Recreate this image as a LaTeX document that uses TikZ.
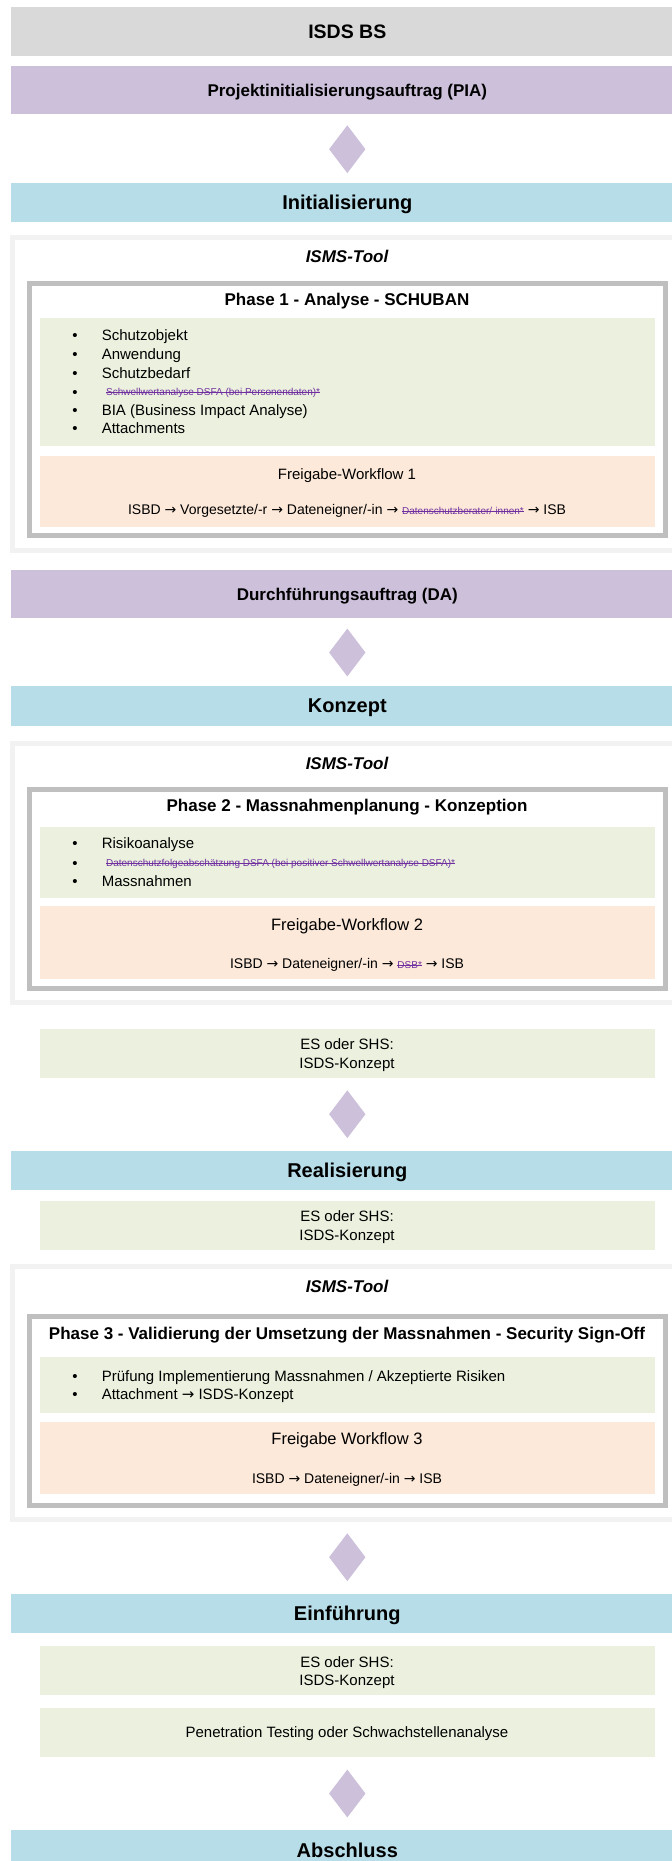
\documentclass[tikz,border=0pt]{standalone}
\usepackage{fontspec}
\setmainfont{Liberation Sans}
\newfontfamily\arrowfont{DejaVu Sans}
\usetikzlibrary{shapes.geometric}

\definecolor{hdrgray}{HTML}{D9D9D9}
\definecolor{lav}{HTML}{CCC0DA}
\definecolor{stageblue}{HTML}{B7DDE8}
\definecolor{lightgreen}{HTML}{EBF1DE}
\definecolor{peach}{HTML}{FDE9D9}
\definecolor{toolline}{HTML}{F2F2F2}
\definecolor{phaseline}{HTML}{BFBFBF}
\definecolor{struck}{HTML}{7030A0}

% text with a line drawn through it
\newsavebox\strikebox
\newcommand\strikeout[1]{\sbox\strikebox{#1}\rlap{\rule[0.3em]{\wd\strikebox}{0.5pt}}\usebox\strikebox}
% struck-out remark in small purple type
\newcommand\strk[1]{{\fontsize{10}{12}\selectfont\color{struck}\strikeout{#1}}}
% flow arrow between roles
\newcommand\ra{{\arrowfont\char"2192}}

\tikzset{
  bar/.style={rectangle, inner sep=0pt, minimum width=673.3pt, text depth=0pt},
  headbar/.style={bar, fill=hdrgray, font=\bfseries\fontsize{19.5}{22}\selectfont, text height=14pt},
  orderbar/.style={bar, fill=lav, font=\bfseries\fontsize{17}{20}\selectfont, text height=12.2pt},
  stagebar/.style={bar, fill=stageblue, font=\bfseries\fontsize{20}{24}\selectfont, text height=14.3pt},
  toolbox/.style={rectangle, draw=toolline, line width=5pt, fill=white, minimum width=670pt, inner sep=0pt},
  phasebox/.style={rectangle, draw=phaseline, line width=5pt, fill=white, minimum width=635.5pt, inner sep=0pt},
  panel/.style={rectangle, inner sep=0pt, minimum width=615pt},
  greenpanel/.style={panel, fill=lightgreen},
  peachpanel/.style={panel, fill=peach},
  gate/.style={diamond, fill=lav, minimum width=36.5pt, minimum height=48pt, inner sep=0pt},
  txt/.style={inner sep=0pt, text depth=0pt},
  tooltitle/.style={txt, font=\bfseries\itshape\fontsize{17}{20}\selectfont, text height=12.2pt},
  phasetitle/.style={txt, font=\bfseries\fontsize{17}{20}\selectfont, text height=12.2pt},
  body/.style={txt, font=\fontsize{15}{18}\selectfont, text height=10.7pt},
  flowhead/.style={txt, font=\fontsize{16.5}{20}\selectfont, text height=11.8pt},
  flowline/.style={txt, font=\fontsize{14}{17}\selectfont, text height=10pt},
  dot/.style={body},
  item/.style={body, anchor=west},
  struckitem/.style={txt, anchor=west, font=\fontsize{10}{12}\selectfont, text height=7.2pt, text=struck},
}

\begin{document}
\begin{tikzpicture}[x=1pt, y=-1pt]
\useasboundingbox (0,0) rectangle (672,1861);
\clip (0,0) rectangle (672,1861);

% ---- header and project order
\node[headbar, minimum height=48.4pt] (isds) at (347.3,31.5) {ISDS BS};
\node[orderbar, minimum height=48pt] (pia) at (347.3,90.4) {Projektinitialisierungsauftrag (PIA)};
\node[gate] (g1) at (347.3,149.2) {};

% ---- stage: Initialisierung
\node[stagebar, minimum height=39.6pt] (init) at (347.3,202.5) {Initialisierung};
\node[toolbox, minimum height=313pt] (tool1) at (347,394) {};
\node[tooltitle] (tool1t) at (347,256.7) {ISMS-Tool};
\node[phasebox, minimum height=252.6pt] (ph1) at (347.3,409.5) {};
\node[phasetitle] (ph1t) at (347,299.3) {Phase 1 - Analyse - SCHUBAN};
\node[greenpanel, minimum height=128.3pt] (ph1g) at (347.5,381.9) {};
\foreach \n/\y in {a/335,b/354,c/372.7,d/391.7,e/410,f/428.3}
  \node[dot] (b1\n) at (75,\y) {•};
\node[item] (i1a) at (101.6,335) {Schutzobjekt};
\node[item] (i1b) at (101.6,354) {Anwendung};
\node[item] (i1c) at (101.6,372.7) {Schutzbedarf};
\node[struckitem] (i1d) at (105.9,391.7) {\strikeout{Schwellwertanalyse DSFA (bei Personendaten)*}};
\node[item] (i1e) at (101.6,410) {BIA (Business Impact Analyse)};
\node[item] (i1f) at (101.6,428.3) {Attachments};
\node[peachpanel, minimum height=70.7pt] (ph1o) at (347.5,491.3) {};
\node[txt, font=\fontsize{15}{18}\selectfont, text height=10.7pt] (fw1) at (347,474.3) {Freigabe-Workflow 1};
\node[flowline] (fw1l) at (347,509.3) {ISBD \ra{} Vorgesetzte/-r \ra{} Dateneigner/-in \ra{} \strk{Datenschutzberater/-innen*} \ra{} ISB};

% ---- execution order
\node[orderbar, minimum height=48.3pt] (da) at (347.3,594.2) {Durchführungsauftrag (DA)};
\node[gate] (g2) at (347.3,652.5) {};

% ---- stage: Konzept
\node[stagebar, minimum height=40pt] (konz) at (347.3,705.7) {Konzept};
\node[toolbox, minimum height=259pt] (tool2) at (347,873) {};
\node[tooltitle] (tool2t) at (347,763.3) {ISMS-Tool};
\node[phasebox, minimum height=198.4pt] (ph2) at (347.3,889) {};
\node[phasetitle] (ph2t) at (347,805.7) {Phase 2 - Massnahmenplanung - Konzeption};
\node[greenpanel, minimum height=71pt] (ph2g) at (347.5,862.2) {};
\foreach \n/\y in {a/842.7,b/863.3,c/881}
  \node[dot] (b2\n) at (75,\y) {•};
\node[item] (i2a) at (101.6,842.7) {Risikoanalyse};
\node[struckitem] (i2b) at (105.9,863.3) {\strikeout{Datenschutzfolgeabschätzung DSFA (bei positiver Schwellwertanalyse DSFA)*}};
\node[item] (i2c) at (101.6,881) {Massnahmen};
\node[peachpanel, minimum height=73.3pt] (ph2o) at (347.5,942.7) {};
\node[flowhead] (fw2) at (347,924.3) {Freigabe-Workflow 2};
\node[flowline] (fw2l) at (347,963.3) {ISBD \ra{} Dateneigner/-in \ra{} \strk{DSB*} \ra{} ISB};

\node[greenpanel, minimum height=48.7pt] (es1) at (347.5,1053.4) {};
\node[body] (es1a) at (347,1044) {ES oder SHS:};
\node[body] (es1b) at (347,1062.7) {ISDS-Konzept};
\node[gate] (g3) at (347.3,1114.2) {};

% ---- stage: Realisierung
\node[stagebar, minimum height=39.3pt] (real) at (347.3,1170.4) {Realisierung};
\node[greenpanel, minimum height=49pt] (es2) at (347.5,1225.5) {};
\node[body] (es2a) at (347,1216) {ES oder SHS:};
\node[body] (es2b) at (347,1235) {ISDS-Konzept};
\node[toolbox, minimum height=252.7pt] (tool3) at (347,1393.2) {};
\node[tooltitle] (tool3t) at (347,1286.7) {ISMS-Tool};
\node[phasebox, minimum height=189pt] (ph3) at (347.3,1411.3) {};
\node[phasetitle] (ph3t) at (347,1333.3) {Phase 3 - Validierung der Umsetzung der Massnahmen - Security Sign-Off};
\node[greenpanel, minimum height=55.4pt] (ph3g) at (347.5,1385) {};
\foreach \n/\y in {a/1376,b/1394}
  \node[dot] (b3\n) at (75,\y) {•};
\node[item] (i3a) at (101.6,1376) {Prüfung Implementierung Massnahmen / Akzeptierte Risiken};
\node[item] (i3b) at (101.6,1394) {Attachment \ra{} ISDS-Konzept};
\node[peachpanel, minimum height=72.6pt] (ph3o) at (347.5,1458) {};
\node[flowhead] (fw3) at (347,1439) {Freigabe Workflow 3};
\node[flowline] (fw3l) at (347,1478.3) {ISBD \ra{} Dateneigner/-in \ra{} ISB};
\node[gate] (g4) at (347.3,1557.2) {};

% ---- stage: Einführung
\node[stagebar, minimum height=39pt] (einf) at (347.3,1613.8) {Einführung};
\node[greenpanel, minimum height=49pt] (es3) at (347.5,1670.5) {};
\node[body] (es3a) at (347,1661.7) {ES oder SHS:};
\node[body] (es3b) at (347,1680) {ISDS-Konzept};
\node[greenpanel, minimum height=49pt] (pen) at (347.5,1732.2) {};
\node[body] (pent) at (347,1731.7) {Penetration Testing oder Schwachstellenanalyse};
\node[gate] (g5) at (347.3,1793.5) {};

% ---- stage: Abschluss
\node[stagebar, minimum height=40pt] (absch) at (347.3,1850) {Abschluss};
\end{tikzpicture}
\end{document}
